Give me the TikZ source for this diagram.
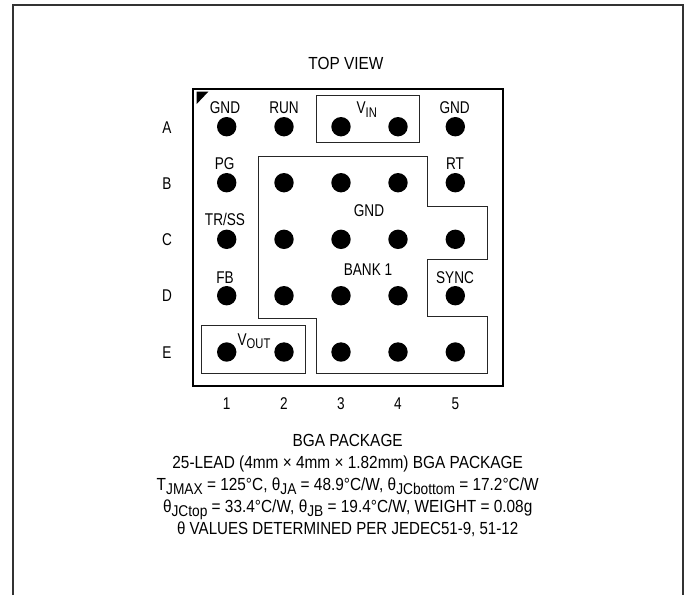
\documentclass[tikz,border=0pt]{standalone}
\usepackage{fontspec}
\setmainfont{Liberation Sans}[FakeStretch=0.80]
\newfontfamily\capfont{Liberation Sans}[FakeStretch=0.88]
\newcommand{\subt}[1]{\raisebox{-0.22em}{\fontsize{14}{15}\selectfont #1}}
\newcommand{\subc}[1]{\raisebox{-0.24em}{\fontsize{15.6}{16}\selectfont #1}}
\tikzset{
  ball/.style={circle,fill=black,draw=none,minimum size=19.4pt,inner sep=0pt},
  lab/.style={anchor=base,inner sep=0pt,text=black,font=\fontsize{17}{19}\selectfont},
  captext/.style={anchor=base,inner sep=0pt,text=black,font=\capfont\fontsize{17.5}{20}\selectfont},
  region/.style={draw=black!85,line width=1pt},
  frameline/.style={draw=black!80,line width=1.6pt},
  pkg/.style={draw=black,line width=2.2pt}
}
\begin{document}
\begin{tikzpicture}[x=1pt,y=-1pt]
\useasboundingbox (0,0) rectangle (688,595);
\fill[white] (0,0) rectangle (688,595);
\coordinate (fa) at (12.8,595);
\coordinate (fb) at (12.8,5);
\coordinate (fc) at (683,5);
\coordinate (fd) at (683,595);
\draw[frameline] (fa) -- (fb) -- (fc) -- (fd);
\node[pkg,minimum width=310pt,minimum height=297pt,inner sep=0pt] (pk) at (348,237.5) {};
\fill[black] (196.7,91.7) -- (208.3,91.7) -- (196.7,104) -- cycle;
\draw[region] (316.3,95.3) rectangle (419.7,142.7);
\draw[region] (201.3,325.3) rectangle (305,373.3);
\draw[region] (258.3,156) -- (427.3,156) -- (427.3,206) -- (487.3,206) -- (487.3,259)
  -- (427.3,259) -- (427.3,316) -- (487.3,316) -- (487.3,373.3) -- (316.3,373.3)
  -- (316.3,318.3) -- (258.3,318.3) -- cycle;
\foreach \n/\x in {1/226.7,2/284,3/341,4/398,5/455.3}
  \foreach \r/\y in {A/126.7,B/182.7,C/239.3,D/295.7,E/352}
    \node[ball] (b\r\n) at (\x,\y) {};
\node[captext] (tv) at (346,69) {TOP VIEW};
\node[lab] (l1) at (225,113.5) {GND};
\node[lab] (l2) at (284,113.5) {RUN};
\node[lab] (l3) at (366.7,113.5) {V\subt{IN}};
\node[lab] (l4) at (454.7,113.5) {GND};
\node[lab] (l5) at (224.7,169) {PG};
\node[lab] (l6) at (455,169) {RT};
\node[lab] (l7) at (369,216) {GND};
\node[lab] (l8) at (225,225.5) {TR/SS};
\node[lab] (l9) at (368,275) {BANK 1};
\node[lab] (l10) at (225,283) {FB};
\node[lab] (l11) at (455,283) {SYNC};
\node[lab] (l12) at (254,345) {V\subt{OUT}};
\foreach \r/\y in {A/133,B/189,C/245.5,D/301.5,E/358}
  \node[lab] (r\r) at (167,\y) {\r};
\foreach \n/\x in {1/226.7,2/284,3/341,4/398,5/455.3}
  \node[lab] (c\n) at (\x,409) {\n};
\node[captext] (t1) at (347.7,446.5) {BGA PACKAGE};
\node[captext] (t2) at (347.7,468.5) {25-LEAD (4mm × 4mm × 1.82mm) BGA PACKAGE};
\node[captext] (t3) at (347.7,490.5) {T\subc{JMAX} = 125°C, θ\subc{JA} = 48.9°C/W, θ\subc{JCbottom} = 17.2°C/W};
\node[captext] (t4) at (347.7,512.5) {θ\subc{JCtop} = 33.4°C/W, θ\subc{JB} = 19.4°C/W, WEIGHT = 0.08g};
\node[captext,xscale=0.98] (t5) at (347.7,534) {θ VALUES DETERMINED PER JEDEC51-9, 51-12};
\end{tikzpicture}
\end{document}
